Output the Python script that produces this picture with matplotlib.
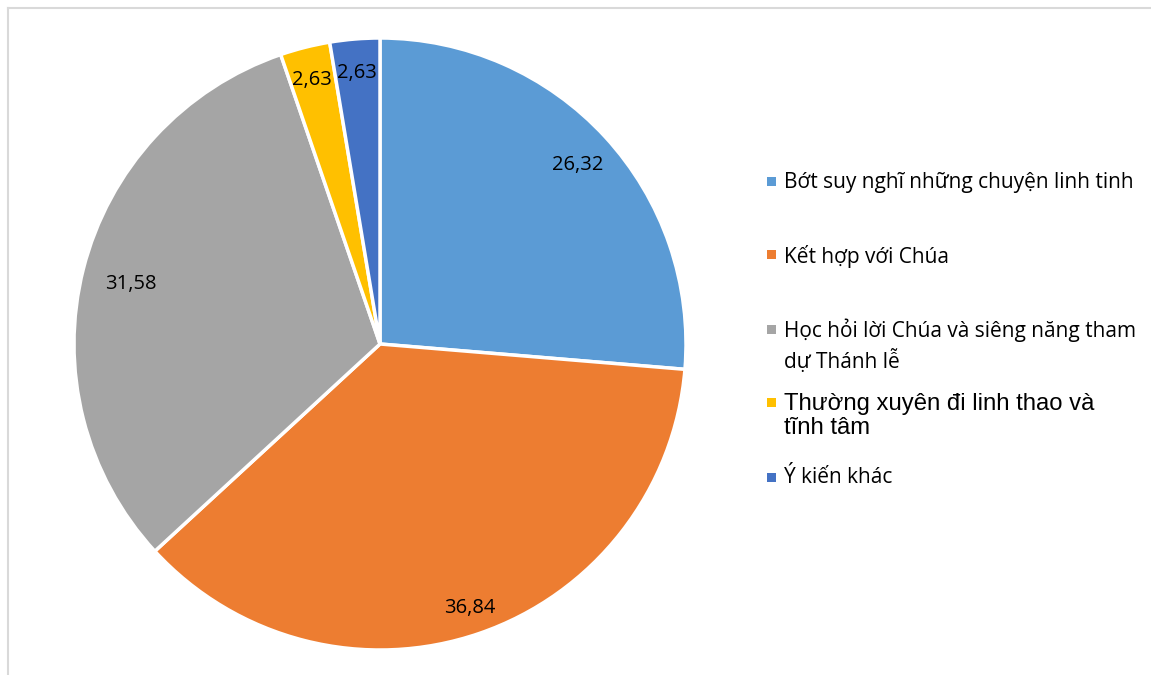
import matplotlib
matplotlib.use("Agg")
import matplotlib.pyplot as plt
from matplotlib.patches import Rectangle
from matplotlib.lines import Line2D
import numpy as np

categories = [
    "Bớt suy nghĩ những chuyện linh tinh",
    "Kết hợp với Chúa",
    "Học hỏi lời Chúa và siêng năng tham\ndự Thánh lễ",
    "Thường xuyên đi linh thao và\ntĩnh tâm",
    "Ý kiến khác",
]
values = [26.32, 36.84, 31.58, 2.63, 2.63]
value_labels = ["26,32", "36,84", "31,58", "2,63", "2,63"]
colors = ["#5B9BD5", "#ED7D31", "#A5A5A5", "#FFC000", "#4472C4"]

W, H = 1151, 675
fig = plt.figure(figsize=(W / 100, H / 100), dpi=100)
fig.patch.set_facecolor("white")

# border lines (top and left)
fig.add_artist(Line2D([8 / W, 1.0], [1 - 8 / H, 1 - 8 / H], color="#D9D9D9", lw=1.5))
fig.add_artist(Line2D([8 / W, 8 / W], [0.0, 1 - 8 / H], color="#D9D9D9", lw=1.5))

cx, cy, R = 380, 344, 306
ax = fig.add_axes([(cx - R) / W, (H - cy - R) / H, 2 * R / W, 2 * R / H])
wedges, _ = ax.pie(values, colors=colors, startangle=90, counterclock=False,
                   wedgeprops=dict(edgecolor="white", linewidth=2.5), radius=1.0)
ax.set_xlim(-1, 1)
ax.set_ylim(-1, 1)
ax.set_aspect("equal")
ax.axis("off")

label_dist = [0.88, 0.90, 0.84, 0.90, 0.90]
font = "Open Sans"
for w, lab, d in zip(wedges, value_labels, label_dist):
    ang = np.deg2rad((w.theta1 + w.theta2) / 2)
    ax.text(d * np.cos(ang), d * np.sin(ang) - 0.01, lab, ha="center", va="center",
            fontsize=14.5, family=font, color="black")

# legend
marker_y = [181.5, 254.5, 329, 402, 477]
leg_fonts = [font, font, font, "Liberation Sans", font]
leg_sizes = [15, 15, 15, 17.2, 15]
line_sp = [1.2, 1.2, 1.35, 1.14, 1.2]
top_off = [10, 10, 10, 9, 10]
for c, lab, y, fam, fs, ls, to in zip(colors, categories, marker_y, leg_fonts, leg_sizes, line_sp, top_off):
    fig.add_artist(Rectangle((767 / W, (H - y - 4.5) / H), 9 / W, 9 / H,
                             transform=fig.transFigure, facecolor=c, edgecolor="none"))
    fig.text(784 / W, (H - y + to) / H, lab, ha="left", va="top", fontsize=fs,
             family=fam, color="black", linespacing=ls)

fig.savefig("out.png", dpi=100, facecolor="white")
